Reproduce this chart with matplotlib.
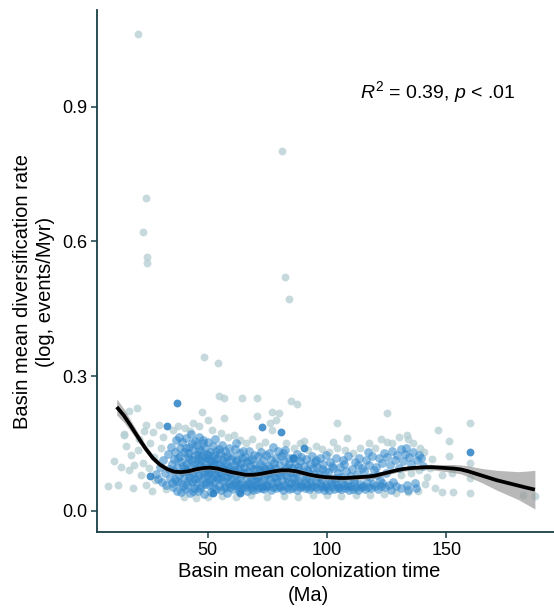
import matplotlib
matplotlib.use("Agg")
import matplotlib.pyplot as plt
import numpy as np

plt.rcParams['font.family'] = ['Liberation Sans', 'DejaVu Sans']
plt.rcParams['mathtext.fontset'] = 'custom'
plt.rcParams['mathtext.rm'] = 'Liberation Sans'
plt.rcParams['mathtext.it'] = 'Liberation Sans:italic'

# ---- data ----
gray_pts = [
    (21.0,1.062),(24.1,0.696),(23.1,0.620),(24.6,0.564),(24.6,0.551),(81.3,0.802),(82.3,0.520),(84.0,0.472),
    (48.4,0.342),(54.3,0.330),
    (54.7,0.256),(57.0,0.252),(64.4,0.252),(70.6,0.250),(84.8,0.244),(87.3,0.238),(20.5,0.229),(17.3,0.223),
    (47.7,0.219),(77.1,0.220),(79.9,0.218),(70.8,0.212),(57.0,0.207),(50.1,0.201),(78.5,0.202),(76.2,0.196),
    (37.5,0.189),(29.8,0.191),(24.3,0.191),(46.6,0.189),(76.9,0.180),(14.9,0.171),(23.6,0.178),(104.1,0.196),
    (125.0,0.217),(159.8,0.195),(146.6,0.180),(151.0,0.155),(133.6,0.169),(133.8,0.160),(125.2,0.152),
    (108.2,0.163),(102.6,0.152),(90.5,0.156),(151.0,0.122),(159.8,0.107),(159.8,0.072),(159.8,0.040),
    (152.9,0.041),(182.1,0.035),(187.0,0.033),(148.0,0.042),(148.0,0.080),(152.2,0.083),(143.0,0.095),
    (141.0,0.060),(145.0,0.050),
    (8.5,0.055),(12.4,0.057),(18.7,0.050),(13.8,0.098),(17.3,0.091),(19.4,0.102),(22.9,0.106),(24.3,0.057),
    (18.0,0.124),(20.8,0.135),(15.2,0.169),(11.0,0.110),(16.0,0.145),(21.5,0.160),(26.0,0.150),(27.5,0.120),
    (25.5,0.095),(28.0,0.068),(22.0,0.080),(27.0,0.175),(30.5,0.140),(31.5,0.165),(26.8,0.045),(32.5,0.048),
    (35.5,0.180),(40.5,0.185),(42.5,0.178),(44.0,0.196),(52.0,0.180),(55.5,0.172),(58.5,0.165),(61.0,0.168),
    (63.5,0.158),(66.0,0.150),(68.5,0.160),(71.5,0.145),(74.0,0.152),(83.0,0.150),(86.0,0.140),(88.5,0.150),
    (92.0,0.135),(95.5,0.145),(98.0,0.138),(101.0,0.130),(104.0,0.140),(107.5,0.135),(111.0,0.128),
    (114.0,0.140),(117.5,0.150),(120.0,0.140),(122.5,0.160),(127.0,0.150),(130.0,0.165),(136.0,0.150),
    (139.0,0.140),
    (40.0,0.030),(45.0,0.028),(50.0,0.030),(56.0,0.032),(62.0,0.031),(68.0,0.034),(75.0,0.030),(82.0,0.033),
    (88.0,0.030),(94.0,0.035),(100.0,0.034),(106.0,0.033),(112.0,0.036),(118.0,0.034),(124.0,0.038),
    (129.0,0.040),(134.0,0.042),(138.0,0.045),(142.0,0.075),(144.0,0.115),(140.5,0.130),(131.0,0.080),
    (135.0,0.085),(138.5,0.090),
]

blue_pts = [
    (28.5,0.082),(29.4,0.071),(30.2,0.098),(30.8,0.064),(31.5,0.112),(32.1,0.085),(32.7,0.058),(33.3,0.127),
    (33.9,0.094),(34.4,0.073),(34.8,0.143),(35.0,0.061),
    (35.3,0.105),(35.6,0.052),(35.9,0.088),(36.2,0.131),(36.5,0.070),(36.8,0.158),(37.1,0.097),(37.4,0.045),
    (37.7,0.118),(38.0,0.079),(38.3,0.140),(38.6,0.062),(38.9,0.109),(39.2,0.086),(39.5,0.152),(39.8,0.054),
    (36.0,0.115),(37.3,0.066),(38.5,0.123),(39.0,0.041),(39.6,0.099),(37.9,0.165),
    (40.1,0.072),(40.3,0.131),(40.6,0.049),(40.8,0.105),(41.1,0.162),(41.3,0.088),(41.6,0.058),(41.8,0.119),
    (42.1,0.143),(42.3,0.076),(42.6,0.040),(42.8,0.097),(43.1,0.170),(43.3,0.063),(43.6,0.112),(43.8,0.135),
    (44.1,0.084),(44.3,0.051),(44.6,0.125),(44.8,0.155),(40.4,0.092),(41.0,0.140),(41.9,0.067),(42.4,0.115),
    (43.0,0.082),(43.5,0.150),(44.0,0.045),(44.5,0.103),(44.9,0.071),(42.0,0.128),
    (45.1,0.093),(45.3,0.061),(45.6,0.147),(45.8,0.117),(46.1,0.043),(46.3,0.079),(46.6,0.165),(46.8,0.101),
    (47.1,0.133),(47.3,0.055),(47.6,0.088),(47.8,0.121),(48.1,0.071),(48.3,0.158),(48.6,0.038),(48.8,0.109),
    (49.1,0.140),(49.3,0.064),(49.6,0.095),(49.8,0.127),(45.4,0.106),(45.9,0.073),(46.4,0.138),(46.9,0.050),
    (47.4,0.112),(47.9,0.150),(48.4,0.085),(48.9,0.060),(49.4,0.118),(49.9,0.078),(46.0,0.124),(48.0,0.098),
    (50.1,0.152),(50.3,0.086),(50.6,0.058),(50.8,0.114),(51.1,0.131),(51.3,0.042),(51.6,0.097),(51.8,0.072),
    (52.1,0.145),(52.3,0.108),(52.6,0.063),(52.8,0.125),(53.1,0.081),(53.3,0.160),(53.6,0.049),(53.8,0.093),
    (54.1,0.118),(54.3,0.070),(54.6,0.138),(54.8,0.056),(50.4,0.125),(50.9,0.069),(51.4,0.110),(51.9,0.090),
    (52.4,0.052),(52.9,0.101),(53.4,0.133),(53.9,0.076),(54.4,0.104),(54.9,0.087),(51.0,0.083),(53.0,0.115),
    (55.1,0.101),(55.3,0.128),(55.6,0.047),(55.8,0.083),(56.1,0.146),(56.3,0.066),(56.6,0.112),(56.8,0.091),
    (57.1,0.055),(57.3,0.134),(57.6,0.075),(57.8,0.106),(58.1,0.040),(58.3,0.121),(58.6,0.088),(58.8,0.061),
    (59.1,0.140),(59.3,0.097),(59.6,0.052),(59.8,0.115),(55.5,0.073),(56.0,0.095),(56.9,0.120),(57.5,0.050),
    (58.0,0.099),(58.7,0.078),(59.4,0.082),(59.9,0.068),
    (60.1,0.087),(60.4,0.123),(60.7,0.048),(61.0,0.102),(61.3,0.065),(61.6,0.138),(61.9,0.081),(62.2,0.054),
    (62.5,0.112),(62.8,0.094),(63.1,0.043),(63.4,0.129),(63.7,0.072),(64.0,0.106),(64.3,0.058),(64.6,0.118),
    (64.9,0.085),(60.5,0.058),(61.2,0.090),(61.8,0.110),(62.4,0.070),(63.0,0.060),(63.6,0.098),(64.2,0.050),
    (64.8,0.132),(62.0,0.150),
    (65.2,0.097),(65.5,0.053),(65.8,0.120),(66.1,0.074),(66.4,0.044),(66.7,0.108),(67.0,0.088),(67.3,0.134),
    (67.6,0.060),(67.9,0.099),(68.2,0.051),(68.5,0.116),(68.8,0.079),(69.1,0.046),(69.4,0.125),(69.7,0.068),
    (65.6,0.083),(66.2,0.057),(66.8,0.062),(67.5,0.112),(68.0,0.072),(68.6,0.054),(69.2,0.092),(69.8,0.105),
    (70.1,0.058),(70.4,0.094),(70.7,0.048),(71.0,0.121),(71.3,0.077),(71.6,0.052),(71.9,0.104),(72.2,0.086),
    (72.5,0.131),(72.8,0.056),(73.1,0.069),(73.4,0.113),(73.7,0.049),(74.0,0.092),(74.3,0.058),(74.6,0.125),
    (74.9,0.081),(70.5,0.072),(71.2,0.064),(71.8,0.090),(72.6,0.051),(73.2,0.098),(73.9,0.074),(74.5,0.054),
    (75.2,0.100),(75.5,0.055),(75.8,0.128),(76.1,0.070),(76.4,0.047),(76.7,0.112),(77.0,0.088),(77.3,0.053),
    (77.6,0.141),(77.9,0.076),(78.2,0.096),(78.5,0.050),(78.8,0.118),(79.1,0.063),(79.4,0.085),(79.7,0.054),
    (75.6,0.084),(76.3,0.095),(77.1,0.061),(78.0,0.107),(78.7,0.072),(79.5,0.132),
    (80.1,0.101),(80.4,0.052),(80.7,0.123),(81.0,0.068),(81.3,0.089),(81.6,0.047),(81.9,0.110),(82.2,0.057),
    (82.5,0.135),(82.8,0.079),(83.1,0.053),(83.4,0.098),(83.7,0.064),(84.0,0.118),(84.3,0.049),(84.6,0.086),
    (84.9,0.061),(80.5,0.080),(81.5,0.128),(82.4,0.093),(83.3,0.072),(84.2,0.104),
    (85.2,0.095),(85.5,0.051),(85.8,0.117),(86.1,0.072),(86.4,0.056),(86.7,0.103),(87.0,0.084),(87.3,0.047),
    (87.6,0.126),(87.9,0.066),(88.2,0.091),(88.5,0.052),(88.8,0.110),(89.1,0.059),(89.4,0.078),(89.7,0.054),
    (85.7,0.082),(86.6,0.064),(87.8,0.098),(89.0,0.120),
    (90.2,0.099),(90.6,0.050),(91.0,0.074),(91.4,0.115),(91.8,0.056),(92.2,0.087),(92.6,0.048),(93.0,0.104),
    (93.4,0.063),(93.8,0.123),(94.2,0.054),(94.6,0.081),(90.8,0.062),(91.6,0.091),(92.4,0.070),(93.2,0.052),
    (94.0,0.095),(94.8,0.108),
    (95.2,0.064),(95.6,0.052),(96.0,0.098),(96.4,0.049),(96.8,0.082),(97.2,0.118),(97.6,0.056),(98.0,0.071),
    (98.4,0.105),(98.8,0.047),(99.2,0.089),(99.6,0.058),(95.4,0.112),(96.2,0.076),(97.0,0.061),(97.8,0.094),
    (98.6,0.053),(99.4,0.125),
    (100.2,0.052),(100.6,0.086),(101.0,0.047),(101.4,0.109),(101.8,0.063),(102.2,0.055),(102.6,0.095),
    (103.0,0.049),(103.4,0.074),(103.8,0.118),(104.2,0.058),(104.6,0.083),(100.8,0.070),(102.0,0.100),
    (103.2,0.061),(104.4,0.050),
    (105.2,0.053),(105.6,0.097),(106.0,0.048),(106.4,0.069),(106.8,0.112),(107.2,0.057),(107.6,0.050),
    (108.0,0.088),(108.4,0.060),(108.8,0.122),(109.2,0.046),(109.6,0.078),(105.8,0.075),(107.0,0.104),
    (108.6,0.054),
    (110.2,0.055),(110.6,0.092),(111.0,0.049),(111.4,0.070),(111.8,0.108),(112.2,0.053),(112.6,0.081),
    (113.0,0.047),(113.4,0.117),(113.8,0.060),(114.2,0.052),(114.6,0.096),(111.2,0.063),(112.8,0.102),
    (115.2,0.056),(115.6,0.088),(116.0,0.048),(116.4,0.112),(116.8,0.065),(117.2,0.052),(117.6,0.101),
    (118.0,0.075),(118.4,0.050),(118.8,0.123),(119.2,0.059),(119.6,0.090),(117.0,0.130),
    (120.2,0.054),(120.7,0.098),(121.2,0.049),(121.7,0.117),(122.2,0.068),(122.7,0.056),(123.2,0.107),
    (123.7,0.128),(124.2,0.052),(124.7,0.085),(121.0,0.080),(123.0,0.062),
    (125.3,0.120),(125.9,0.057),(126.5,0.101),(127.1,0.133),(127.7,0.063),(128.3,0.112),(128.9,0.054),
    (129.5,0.125),(130.3,0.095),(131.1,0.138),(130.8,0.050),(126.8,0.046),
    (132.0,0.110),(132.8,0.127),(133.6,0.058),(134.4,0.119),(135.2,0.104),(136.0,0.131),(136.8,0.062),
    (137.6,0.112),(138.5,0.124),(140.0,0.100),(134.0,0.047),(137.2,0.050),(139.5,0.118),(133.0,0.140),
]

strong_pts = [(37.2,0.239),(33.1,0.189),(80.6,0.175),(72.7,0.186),(90.4,0.139),(25.9,0.077),
              (85.9,0.117),(63.6,0.039),(52.2,0.040),(159.8,0.131)]

fit_x = [12,15,18,21,24,27,30,33,36,39,42,45,48,51,54,57,60,63,66,69,72,75,78,81,84,87,90,93,96,99,
         102,105,108,111,114,117,120,123,126,129,132,135,138,141,144,147,150,153,156,159,162,165,168,
         171,174,177,180,183,187]
fit_y = [0.231,0.212,0.188,0.163,0.139,0.118,0.103,0.093,0.087,0.086,0.088,0.092,0.095,0.096,0.094,
         0.090,0.086,0.083,0.080,0.080,0.082,0.085,0.088,0.090,0.090,0.088,0.084,0.080,0.077,0.075,
         0.074,0.073,0.073,0.074,0.075,0.076,0.078,0.082,0.086,0.090,0.093,0.095,0.096,0.097,0.097,
         0.096,0.095,0.094,0.092,0.088,0.083,0.078,0.073,0.068,0.064,0.060,0.056,0.052,0.047]
fit_se = [0.018,0.015,0.012,0.010,0.008,0.007,0.006,0.005,0.005,0.005,0.005,0.005,0.005,0.005,0.005,
          0.005,0.005,0.005,0.005,0.005,0.005,0.005,0.005,0.005,0.005,0.005,0.005,0.005,0.005,0.005,
          0.005,0.005,0.005,0.005,0.005,0.005,0.005,0.005,0.005,0.005,0.005,0.005,0.005,0.005,0.006,
          0.007,0.008,0.009,0.010,0.012,0.014,0.016,0.019,0.022,0.025,0.028,0.031,0.036,0.043]

x_ticks = [50, 100, 150]
y_ticks = [0.0, 0.3, 0.6, 0.9]
y_ticklabels = ["0.0", "0.3", "0.6", "0.9"]
stat_text = r"$R^2$ = 0.39, $p$ < .01"

# ---- figure ----
fig = plt.figure(figsize=(5.54, 6.08), dpi=100)
ax = fig.add_axes([0.1745, 0.1245, 0.8255, 0.8591])

spine_c = '#173f45'
gx, gy = zip(*gray_pts)
bx, by = zip(*blue_pts)
sx, sy = zip(*strong_pts)
ax.scatter(gx, gy, s=32, color='#b3cdd1', alpha=0.75, linewidths=0, zorder=2)
ax.scatter(bx, by, s=40, color='#2f86ca', alpha=0.55, linewidths=0, zorder=3)
ax.scatter(sx, sy, s=32, color='#2a80c4', alpha=0.85, linewidths=0, zorder=3)

fx = np.array(fit_x); fy = np.array(fit_y); fs = np.array(fit_se)
ax.fill_between(fx, fy - fs, fy + fs, color='#9a9a9a', alpha=0.7, linewidth=0, zorder=4)
ax.plot(fx, fy, color='black', linewidth=2.7, zorder=5, solid_capstyle='butt')

ax.set_xlim(3.6, 195)
ax.set_ylim(-0.048, 1.115)
ax.set_xticks(x_ticks)
ax.set_yticks(y_ticks)
ax.set_yticklabels(y_ticklabels)

for s in ['top', 'right']:
    ax.spines[s].set_visible(False)
for s in ['left', 'bottom']:
    ax.spines[s].set_color(spine_c)
    ax.spines[s].set_linewidth(1.3)
ax.tick_params(axis='both', colors=spine_c, labelcolor='black', labelsize=13, length=4, width=1.1, pad=3)

ax.set_xlabel("Basin mean colonization time\n(Ma)", fontsize=14.5, linespacing=1.35)
ax.xaxis.set_label_coords(0.464, -0.057)
ax.xaxis.label.set_va('top')
ax.set_ylabel("Basin mean diversification rate\n(log, events/Myr)", fontsize=14.5, linespacing=1.3)
ax.yaxis.set_label_coords(-0.091, 0.461)

ax.text(113.8, 0.932, stat_text, fontsize=14, va='center', ha='left')
fig.savefig("out.png", dpi=100)
